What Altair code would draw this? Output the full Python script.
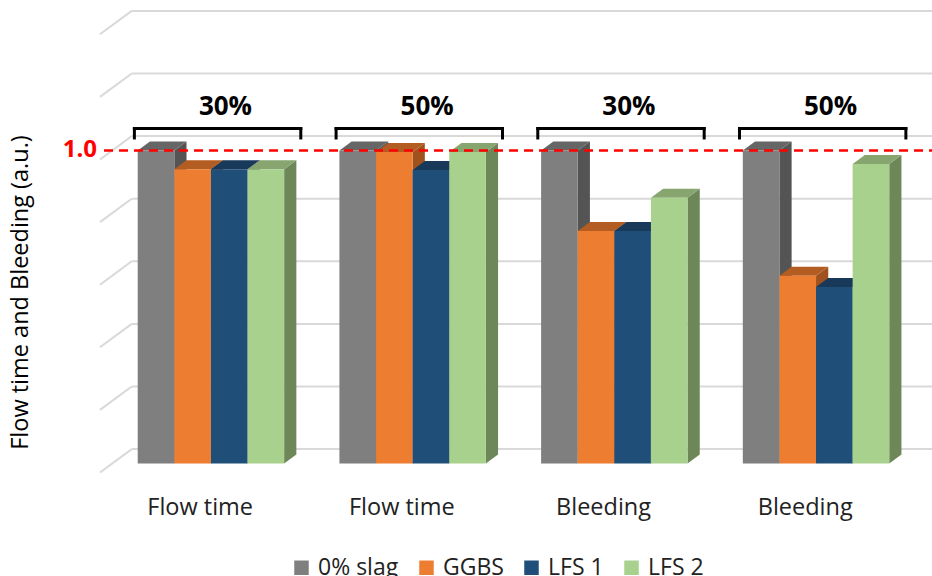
import altair as alt
import pandas as pd

# ---- data ----
categories = ["Flow time", "Flow time", "Bleeding", "Bleeding"]
slag_levels = ["30%", "50%", "30%", "50%"]
series = ["0% slag", "GGBS", "LFS 1", "LFS 2"]
ref_vals = [1.0, 1.0, 1.0, 1.0]
ggbs_vals = [0.94, 0.995, 0.743, 0.60]
lfs1_vals = [0.94, 0.938, 0.743, 0.564]
lfs2_vals = [0.94, 0.995, 0.849, 0.957]
grid_vals = [0.0, 0.2, 0.4, 0.6, 0.8, 1.0, 1.2, 1.4]
ref_line = 1.0

front_colors = ["#7f7f7f", "#ed7d31", "#1f4e79", "#a9d18e"]
top_colors = ["#666666", "#b45d22", "#18395a", "#87a56f"]
side_colors = ["#545454", "#9f521e", "#14304b", "#6d8759"]

# ---- pseudo-3D geometry (x in group units, y in value units) ----
X_DOM = [-0.55, 3.575]
Y_DOM = [-0.0399, 1.4808]
BAR_W = 0.1815          # width of one bar
DX = 0.0605             # horizontal shift per depth step
DV = 0.02875            # vertical shift per depth step
FONT = "Open Sans"

values = [ref_vals, ggbs_vals, lfs1_vals, lfs2_vals]

fronts, faces = [], []
for g in range(len(categories)):
    for k, name in enumerate(series):
        v = values[k][g]
        x0 = g - 2 * BAR_W + k * BAR_W
        x1 = x0 + BAR_W
        fronts.append({"series": name, "x0": x0, "x1": x1, "v": v})
        sid = f"s{g}{k}"
        faces.append({"face": sid, "kind": 0, "x": x1, "lo": 0.0, "hi": v, "fill": side_colors[k]})
        faces.append({"face": sid, "kind": 0, "x": x1 + DX, "lo": DV, "hi": v + DV, "fill": side_colors[k]})
        tid = f"t{g}{k}"
        for xx, lo, hi in [(x0, v, v), (x0 + DX, v, v + DV), (x1, v, v + DV), (x1 + DX, v + DV, v + DV)]:
            faces.append({"face": tid, "kind": 1, "x": xx, "lo": lo, "hi": hi, "fill": top_colors[k]})

front_df = pd.DataFrame(fronts)
face_df = pd.DataFrame(faces)

# back wall gridlines and side-wall diagonals
wall_x = X_DOM[0] + 2.6 * DX
grid_rows = []
for gv in grid_vals:
    grid_rows.append({"x": wall_x, "x2": X_DOM[1], "y": gv + 1.6 * DV, "y2": gv + 1.6 * DV})
    grid_rows.append({"x": X_DOM[0], "x2": wall_x, "y": gv - DV, "y2": gv + 1.6 * DV})
grid_df = pd.DataFrame(grid_rows)

# brackets above each group
br_rows, br_labels = [], []
for g, lvl in enumerate(slag_levels):
    left, right = g + 0.033 - 0.4125, g + 0.033 + 0.4125
    br_rows += [
        {"x": left, "x2": right, "y": 1.07, "y2": 1.07},
        {"x": left, "x2": left, "y": 1.07, "y2": 1.04},
        {"x": right, "x2": right, "y": 1.07, "y2": 1.04},
    ]
    br_labels.append({"x": g + 0.072, "y": 1.139, "label": lvl})
br_df = pd.DataFrame(br_rows)
br_lab_df = pd.DataFrame(br_labels)

cat_df = pd.DataFrame({"x": [g - 0.0535 for g in range(len(categories))],
                       "y": [-0.142] * len(categories), "label": categories})

xs = alt.Scale(domain=X_DOM, nice=False, zero=False)
ys = alt.Scale(domain=Y_DOM, nice=False, zero=False)
y_axis = alt.Axis(labels=False, ticks=False, domain=False, grid=False,
                  title="Flow time and Bleeding (a.u.)", titleX=-80, titleY=292,
                  titleAngle=270, titleAlign="center", titleBaseline="middle",
                  titleFont=FONT, titleFontSize=23.5, titleFontWeight="normal",
                  titleColor="#000000")

grid = alt.Chart(grid_df).mark_rule(color="#d9d9d9", strokeWidth=2).encode(
    x=alt.X("x:Q", scale=xs, axis=None), x2="x2:Q",
    y=alt.Y("y:Q", scale=ys, axis=y_axis), y2="y2:Q")

sides = alt.Chart(face_df).transform_filter("datum.kind == 0").mark_area(
    interpolate="linear").encode(
    x=alt.X("x:Q", scale=xs, axis=None),
    y=alt.Y("lo:Q", scale=ys, axis=y_axis, stack=None), y2="hi:Q",
    detail="face:N", color=alt.Color("fill:N", scale=None))

tops = alt.Chart(face_df).transform_filter("datum.kind == 1").mark_area(
    interpolate="linear").encode(
    x=alt.X("x:Q", scale=xs, axis=None),
    y=alt.Y("lo:Q", scale=ys, axis=y_axis, stack=None), y2="hi:Q",
    detail="face:N", color=alt.Color("fill:N", scale=None))

bars = alt.Chart(front_df).mark_rect().encode(
    x=alt.X("x0:Q", scale=xs, axis=None), x2="x1:Q",
    y=alt.Y("v:Q", scale=ys, axis=y_axis), y2=alt.datum(0),
    color=alt.Color("series:N", scale=alt.Scale(domain=series, range=front_colors),
                    legend=alt.Legend(title=None, orient="none", direction="horizontal",
                                      legendX=190, legendY=556, symbolType="square",
                                      symbolSize=210, symbolStrokeWidth=0,
                                      labelFont=FONT, labelFontSize=23, labelColor="#222222",
                                      labelOffset=5, columnPadding=16, padding=0)))

red = alt.Chart(pd.DataFrame({"y": [ref_line], "x": [X_DOM[0] + 0.02], "x2": [X_DOM[1]]})).mark_rule(
    color="#ff0000", strokeWidth=2.5, strokeDash=[9, 6]).encode(
    x=alt.X("x:Q", scale=xs, axis=None), x2="x2:Q",
    y=alt.Y("y:Q", scale=ys, axis=y_axis))

red_lab = alt.Chart(pd.DataFrame({"y": [ref_line], "x": [X_DOM[0] - 0.015], "label": ["1.0"]})).mark_text(
    color="#ff0000", font=FONT, fontSize=24, fontWeight="bold", align="right", baseline="middle").encode(
    x=alt.X("x:Q", scale=xs, axis=None), y=alt.Y("y:Q", scale=ys, axis=y_axis), text="label:N")

brackets = alt.Chart(br_df).mark_rule(color="#000000", strokeWidth=3, strokeCap="square").encode(
    x=alt.X("x:Q", scale=xs, axis=None), x2="x2:Q",
    y=alt.Y("y:Q", scale=ys, axis=y_axis), y2="y2:Q")

br_text = alt.Chart(br_lab_df).mark_text(
    font=FONT, fontSize=26, fontWeight="bold", color="#000000", baseline="middle").encode(
    x=alt.X("x:Q", scale=xs, axis=None), y=alt.Y("y:Q", scale=ys, axis=y_axis), text="label:N")

cat_text = alt.Chart(cat_df).mark_text(
    font=FONT, fontSize=23.5, color="#222222", baseline="middle").encode(
    x=alt.X("x:Q", scale=xs, axis=None), y=alt.Y("y:Q", scale=ys, axis=y_axis), text="label:N")

chart = alt.layer(grid, sides, tops, bars, red, brackets, br_text, cat_text, red_lab).resolve_scale(
    color="independent").properties(
    width=832, height=476,
    padding={"left": 100, "top": 0, "right": 0, "bottom": 100},
    autosize=alt.AutoSizeParams(type="none"),
    background="#ffffff",
).configure_view(stroke=None)

chart.save("out.html", embed_options={"renderer": "svg", "actions": False})
